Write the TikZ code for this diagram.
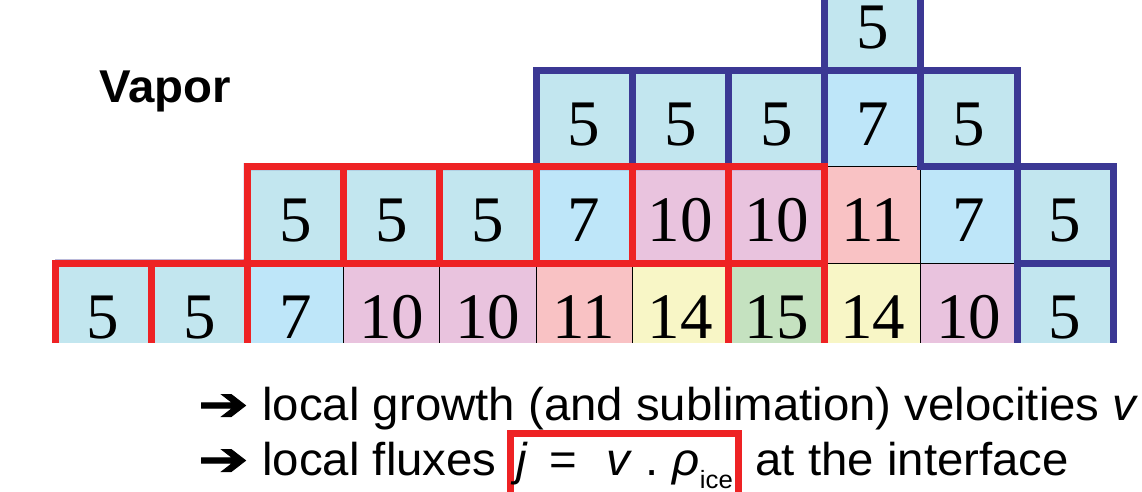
\documentclass[tikz,border=0pt]{standalone}
\usepackage{fontspec}
\usepackage{graphicx}
\setmainfont{Liberation Serif}
\newfontfamily\slidefont[FakeStretch=1.03]{Liberation Sans}
\newfontfamily\arrowfont[FakeBold=2]{DejaVu Sans}
\usetikzlibrary{positioning}
\definecolor{icered}{HTML}{EE2224}
\definecolor{vapblue}{HTML}{3B3894}
\definecolor{fivefill}{HTML}{C2E6EF}
\definecolor{sevenfill}{HTML}{BEE6F9}
\definecolor{tenfill}{HTML}{E9C3DE}
\definecolor{elevenfill}{HTML}{F9C2C4}
\definecolor{fourteenfill}{HTML}{F8F6C6}
\definecolor{fifteenfill}{HTML}{C5E2C0}
\newcommand{\bigarrow}{\scalebox{1.36}[1.05]{\arrowfont\fontsize{44}{44}\selectfont ➔}\hspace{14pt}}

\begin{document}
\begin{tikzpicture}[
  x=1pt,y=-1pt,
  cell/.style={draw=black,line width=0.9pt,minimum width=96.2pt,
               minimum height=96.5pt,inner sep=0pt,outer sep=0pt,
               text height=54pt,text depth=0pt,
               font=\fontsize{65}{65}\selectfont},
  iceline/.style={draw=icered,line width=7pt},
  vaporline/.style={draw=vapblue,line width=7pt},
  slide/.style={inner sep=0pt,font=\slidefont\fontsize{46}{46}\selectfont},
  formula/.style={draw=icered,line width=7pt,inner xsep=6pt,inner ysep=0pt,
                  text height=42pt,text depth=45pt}
]
\useasboundingbox (0,0) rectangle (1142,491);
\clip (0,0) rectangle (1142,491);

% lattice of sites, cut at the top and at the bottom
\begin{scope}
\clip (0,0) rectangle (1142,342);
\foreach \col/\row/\val/\shade in {
    0/0/5/fivefill, 1/0/5/fivefill, 2/0/7/sevenfill, 3/0/10/tenfill,
    4/0/10/tenfill, 5/0/11/elevenfill, 6/0/14/fourteenfill,
    7/0/15/fifteenfill, 8/0/14/fourteenfill, 9/0/10/tenfill, 10/0/5/fivefill,
    2/1/5/fivefill, 3/1/5/fivefill, 4/1/5/fivefill, 5/1/7/sevenfill,
    6/1/10/tenfill, 7/1/10/tenfill, 8/1/11/elevenfill, 9/1/7/sevenfill,
    10/1/5/fivefill,
    5/2/5/fivefill, 6/2/5/fivefill, 7/2/5/fivefill, 8/2/7/sevenfill,
    9/2/5/fivefill,
    8/3/5/fivefill}
  \node[cell,fill=\shade] (r\row c\col)
    at ({55+96.2*\col+48.1},{263-96.5*\row+48.25}) {\val};

% vapor side
\foreach \site in {r3c8,r2c5,r2c6,r2c7,r2c9,r1c10,r0c10}
  \draw[vaporline] (\site.north west) rectangle (\site.south east);
\draw[vaporline,yshift=2.5pt] (r0c0.north west) -- (r0c1.north east)
  -- (r1c2.north west) -- (r1c7.north east);

% ice surface
\foreach \site in {r0c0,r0c1,r1c2,r1c3,r1c4,r1c5,r1c6,r1c7,r0c7}
  \draw[iceline] (\site.north west) rectangle (\site.south east);
\end{scope}

\node[anchor=base west,inner sep=0pt,
      font=\slidefont\bfseries\fontsize{46}{46}\selectfont] (vapor)
  at (99,102) {Vapor};

\node[slide,anchor=base west] (growth) at (198,420)
  {\bigarrow local growth (and sublimation) velocities \textit{v}};
\node[slide,anchor=base west] (fluxes) at (198,475)
  {\bigarrow local fluxes};
\node[slide,formula,base right=10pt of fluxes] (jflux)
  {\textit{j}\hspace{21pt}=\hspace{30pt}\textit{v}\hspace{13pt}.\hspace{14pt}\textit{ρ}\raisebox{-13pt}{\fontsize{25}{25}\selectfont ice}};
\node[slide,base right=13pt of jflux] (iface) {at the interface};
\end{tikzpicture}
\end{document}
